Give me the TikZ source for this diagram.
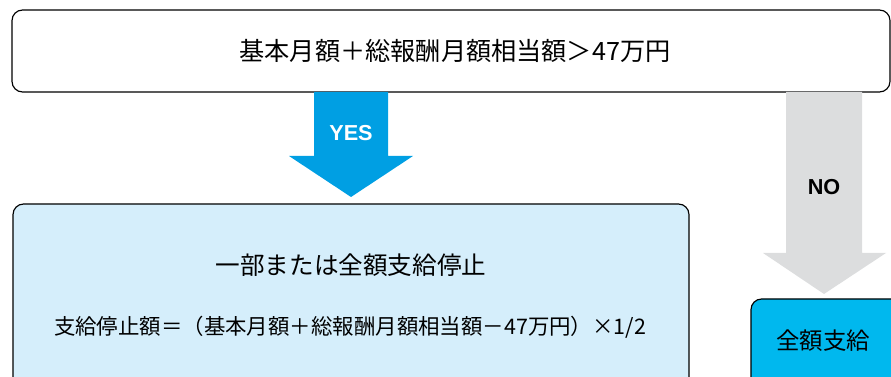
\documentclass[tikz,border=0pt]{standalone}
\usepackage{fontspec}
\usepackage{tikz}
\usetikzlibrary{positioning}
\setmainfont{Noto Sans CJK JP}
\newfontfamily\labelfont{Liberation Sans}
\definecolor{flowblue}{RGB}{0,159,227}
\definecolor{flowgray}{RGB}{220,221,222}
\definecolor{paleblue}{RGB}{213,238,251}
\definecolor{cyanbox}{RGB}{0,184,238}
\tikzset{
  blk/.style={
    rounded corners=9pt, draw=black, line width=1pt,
    align=center, inner sep=0pt
  },
  yesno/.style={font=\labelfont\bfseries\fontsize{18.5pt}{19pt}\selectfont}
}

\begin{document}
\begin{tikzpicture}[x=0.03cm, y=-0.03cm]
    \useasboundingbox (0,0) rectangle (891,377);

    % Condition at the top.
    \draw[blk] (12,10) rectangle (890,92);
    \node (cond) at (455,51)
      {\fontsize{21.5pt}{22pt}\selectfont 基本月額＋総報酬月額相当額＞47万円};

    % YES branch.
    \fill[flowblue] (314,92) -- (388,92) -- (388,156) -- (413,156)
      -- (351,197) -- (289,156) -- (314,156) -- cycle;
    \node[yesno, text=white] (yes) at (351,133) {YES};

    % NO branch.
    \fill[flowgray] (786,92) -- (862,92) -- (862,253) -- (886,253)
      -- (824,294) -- (763,253) -- (786,253) -- cycle;
    \node[yesno] (no) at (824,187) {NO};

    % Partial or full stop.
    \draw[blk, fill=paleblue] (13,204) rectangle (689,395);
    \node (stop) at (351,265)
      {\fontsize{21pt}{22pt}\selectfont 一部または全額支給停止};
    \node (calc) at (350,327)
      {\fontsize{18.3pt}{19pt}\selectfont 支給停止額＝（基本月額＋総報酬月額相当額－47万円）×1/2};

    % Full payment.
    \draw[blk, fill=cyanbox] (751,299) rectangle (905,395);
    \node (full) at (823,341)
      {\fontsize{20pt}{21pt}\selectfont 全額支給};
  \end{tikzpicture}
\end{document}
